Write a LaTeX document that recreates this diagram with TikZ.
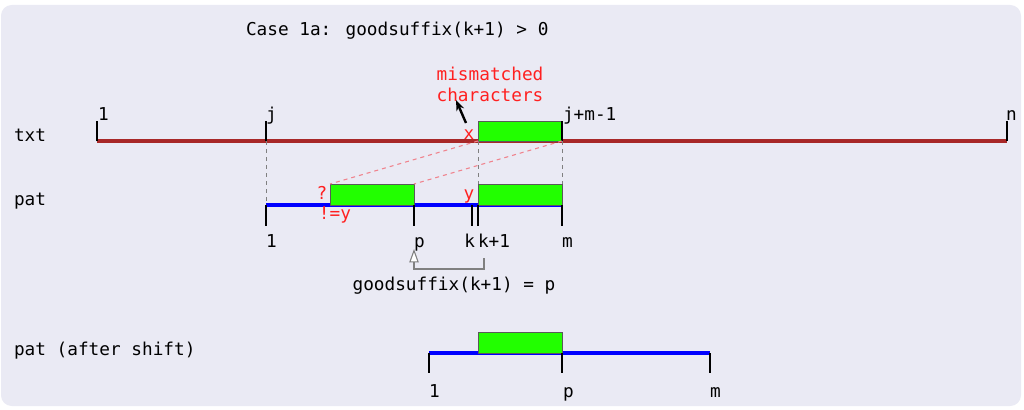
\documentclass[tikz,border=0pt]{standalone}
\usepackage{fontspec}
\setmainfont{DejaVu Sans Mono}
\usetikzlibrary{arrows.meta}
\definecolor{bg}{RGB}{234,234,244}
\definecolor{txtline}{RGB}{168,40,40}
\definecolor{matchgreen}{RGB}{34,255,0}
\definecolor{lbred}{RGB}{255,32,32}
\definecolor{pink}{RGB}{240,130,140}
\begin{document}
\begin{tikzpicture}[x=0.75pt,y=-0.75pt,
  every node/.style={font=\fontsize{13.3}{16}\selectfont, inner sep=0pt, outer sep=0pt},
  txtbar/.style={draw=txtline, line width=2.8pt},
  patbar/.style={draw=blue, line width=2.6pt},
  tick/.style={draw=black, line width=1.9pt},
  greenbox/.style={fill=matchgreen, draw=gray!70!black, line width=0.6pt},
  redlbl/.style={text=lbred},
  guide/.style={draw=gray, line width=0.6pt, dash pattern=on 3pt off 3pt},
  pinkguide/.style={draw=pink, line width=0.8pt, dash pattern=on 3pt off 3pt}]
\useasboundingbox (0,0) rectangle (1024,410);
\fill[bg, rounded corners=8pt] (1,5) rectangle (1021,406);

% title
\node[anchor=base west] (title) at (246,36) {Case 1a: goodsuffix(k+1) > 0};

% row labels
\node[anchor=base west] (ltxt) at (14,142) {txt};
\node[anchor=base west] (lpat) at (14,205) {pat};
\node[anchor=base west] (lshift) at (14,355) {pat (after shift)};

% txt row
\coordinate (t1) at (97,141);
\coordinate (tj) at (266,141);
\coordinate (tx) at (478,141);
\coordinate (tm) at (562,141);
\coordinate (tn) at (1007,141);
\draw[txtbar] (t1) -- (tn);
\node[greenbox, minimum width=84*0.75pt, minimum height=20*0.75pt, anchor=south west] (tbox) at (tx) {};
\foreach \c in {t1,tj,tm,tn} \draw[tick] (\c) -- ++(0,-20);
\node[anchor=base west] (lt1) at (98,120) {1};
\node[anchor=base west] (ltj) at (266,120) {j};
\node[anchor=base west] (ltm) at (563,120) {j+m-1};
\node[anchor=base west] (ltn) at (1006,120) {n};
\node[redlbl, anchor=base] (lx) at (469,139) {x};

% mismatched label
\node[redlbl, anchor=base] (mis1) at (490,80) {mismatched};
\node[redlbl, anchor=base] (mis2) at (490,101) {characters};
\coordinate (arrs) at (466,123);
\coordinate (arrt) at (456,100);
\draw[-{Stealth[length=8pt,width=6pt]}, line width=1.8pt] (arrs) -- (arrt);

% pat row
\coordinate (p1) at (266,205);
\coordinate (pq) at (330,205);
\coordinate (pp) at (414,205);
\coordinate (pk) at (472,205);
\coordinate (pk1) at (478,205);
\coordinate (pm) at (562,205);
\draw[patbar] (p1) -- (pm);
\node[greenbox, minimum width=84*0.75pt, minimum height=21*0.75pt, anchor=south west] (pbox1) at (pq) {};
\node[greenbox, minimum width=84*0.75pt, minimum height=21*0.75pt, anchor=south west] (pbox2) at (pk1) {};
\foreach \c in {p1,pp,pk,pk1,pm} \draw[tick] (\c) -- ++(0,21);
\node[anchor=base west] (lp1) at (266,247) {1};
\node[anchor=base west] (lpp) at (414,247) {p};
\node[anchor=base east] (lpk) at (475,247) {k};
\node[anchor=base west] (lpk1) at (478,247) {k+1};
\node[anchor=base west] (lpm) at (562,247) {m};
\node[redlbl, anchor=base] (lq) at (322,199) {?};
\node[redlbl, anchor=base] (lneq) at (335,219) {!=y};
\node[redlbl, anchor=base] (ly) at (469,199) {y};

% guides
\draw[guide] (tj) -- (p1);
\draw[guide] (tx) -- (pbox2.north west);
\draw[guide] (tm) -- (pbox2.north east);
\draw[pinkguide] (tx) -- (pbox1.north west);
\draw[pinkguide] (tm) -- (pbox1.north east);

% goodsuffix arrow
\coordinate (gsA) at (484,258);
\coordinate (gsB) at (414,249);
\draw[draw=gray, line width=0.8pt, -{Triangle[open, fill=white, length=10pt, width=7pt]}] (gsA) -- (484,269) -- (414,269) -- (gsB);
\node[anchor=base] (gs) at (454,290) {goodsuffix(k+1) = p};

% after shift row
\coordinate (s1) at (429,353);
\coordinate (sb) at (478,353);
\coordinate (sp) at (562,353);
\coordinate (sm) at (710,353);
\draw[patbar] (s1) -- (sm);
\node[greenbox, minimum width=84*0.75pt, minimum height=21*0.75pt, anchor=south west] (sbox) at (sb) {};
\foreach \c in {s1,sp,sm} \draw[tick] (\c) -- ++(0,20);
\node[anchor=base west] (ls1) at (429,397) {1};
\node[anchor=base west] (lsp) at (563,397) {p};
\node[anchor=base west] (lsm) at (710,397) {m};
\end{tikzpicture}
\end{document}
